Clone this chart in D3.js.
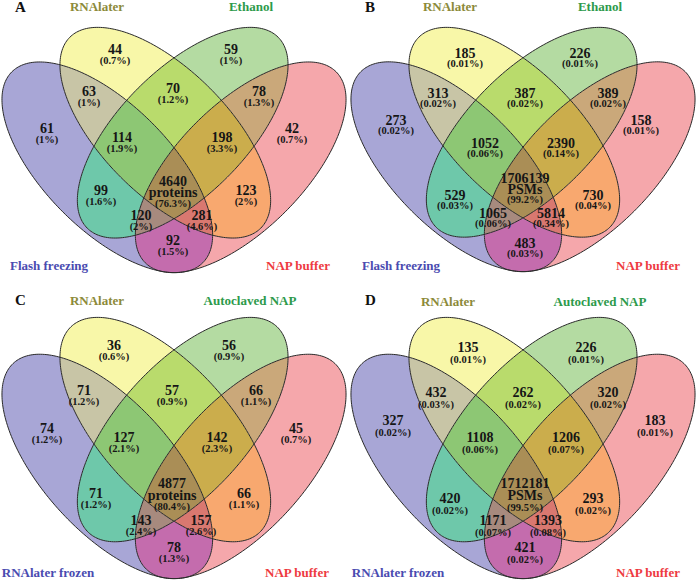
<!DOCTYPE html>
<html><head><meta charset="utf-8">
<script src="https://cdn.jsdelivr.net/npm/d3@7"></script>
<style>body{margin:0;background:#fff}svg{display:block}</style>
</head><body><svg id="chart" width="696" height="581"></svg>
<script>
// ---------- DATA ----------
const regionKeys = ["0","1","2","3","01","12","23","012","123","02","13","023","013","03","0123"];
const setNamesAB = ["Flash freezing","RNAlater","Ethanol","NAP buffer"];
const setNamesCD = ["RNAlater frozen","RNAlater","Autoclaved NAP","NAP buffer"];
const countsA = [61,44,59,42,63,70,78,114,198,99,123,120,281,92,4640];
const pctsA   = ["1%","0.7%","1%","0.7%","1%","1.2%","1.3%","1.9%","3.3%","1.6%","2%","2%","4.6%","1.5%","76.3%"];
const countsB = [273,185,226,158,313,387,389,1052,2390,529,730,1065,5814,483,1706139];
const pctsB   = ["0.02%","0.01%","0.01%","0.01%","0.02%","0.02%","0.02%","0.06%","0.14%","0.03%","0.04%","0.06%","0.34%","0.03%","99.2%"];
const countsC = [74,36,56,45,71,57,66,127,142,71,66,143,157,78,4877];
const pctsC   = ["1.2%","0.6%","0.9%","0.7%","1.2%","0.9%","1.1%","2.1%","2.3%","1.2%","1.1%","2.4%","2.6%","1.3%","80.4%"];
const countsD = [327,135,226,183,432,262,320,1108,1206,420,293,1171,1393,421,1712181];
const pctsD   = ["0.02%","0.01%","0.01%","0.01%","0.03%","0.02%","0.02%","0.06%","0.07%","0.02%","0.02%","0.07%","0.08%","0.02%","99.5%"];
const centerUnits = ["proteins","PSMs","proteins","PSMs"];

// ---------- STYLE / LAYOUT ----------
const W = 696, H = 581;
const regionColors = ["#a8a6d6","#f8f7a8","#b4dba2","#f5a7ab","#c8c5a6","#b9db6c","#caa87a",
                      "#8dc774","#cbad4c","#6ec8aa","#f8a86f","#a78a7e","#d97870","#c46cad","#aa8e56"];
const labelColors = ["#4a4bb0","#8c8a3a","#2d9a4b","#ee3b3f"];
const EA = 135, EB = 63;
const ellipses = [
  {cx:107.3, cy:167.3, rot:45},
  {cx:165.3, cy:132.7, rot:45},
  {cx:182.7, cy:132.7, rot:-45},
  {cx:240.7, cy:167.3, rot:-45}];
// label centres, panel-local pixels
const labelPosA = [[48,128],[116,49],[232,49],[293,128],[90,91],[174,88],[260,91],[123,137],[223,137],[102,190],[247,190],[142,215],[203,215],[174,240],[174,181]];
const labelPosB = [[48,120],[117,53],[232,53],[293,120],[90,93],[177,93],[260,93],[137,143],[213,143],[107,195],[245,195],[145,213],[203,213],[177,243],[177,178]];
const labelPosC = [[48,138],[115,55],[230,55],[297,138],[85,100],[173,100],[257,100],[125,147],[218,147],[97,203],[245,203],[142,230],[202,230],[175,257],[173,193]];
const labelPosD = [[45,130],[120,57],[238,57],[307,130],[88,102],[175,102],[260,102],[132,147],[218,147],[102,208],[245,208],[145,230],[200,230],[177,257],[177,193]];

const panels = [
  {id:"A", names:setNamesAB, counts:countsA, pcts:pctsA, unit:centerUnits[0], pos:labelPosA, gap:11,
   x0:0, y0:0, top:27, bottom:273, topY:11, botY:270, catX:[49,97,251,298], letterX:15, letterY:12},
  {id:"B", names:setNamesAB, counts:countsB, pcts:pctsB, unit:centerUnits[1], pos:labelPosB, gap:10.5,
   x0:349, y0:0, top:27, bottom:272, topY:11, botY:270, catX:[401,450,600,648], letterX:365, letterY:12},
  {id:"C", names:setNamesCD, counts:countsC, pcts:pctsC, unit:centerUnits[2], pos:labelPosC, gap:11.5,
   x0:0, y0:290, top:317, bottom:579, topY:305, botY:577, catX:[48,97,250,297], letterX:15, letterY:305},
  {id:"D", names:setNamesCD, counts:countsD, pcts:pctsD, unit:centerUnits[3], pos:labelPosD, gap:12,
   x0:349, y0:290, top:317, bottom:579, topY:306, botY:577, catX:[398,448,600,648], letterX:365, letterY:305}
];

const svg = d3.select("#chart");
const defs = svg.append("defs");
const font = "'Liberation Serif','Times New Roman',serif";
const line = d3.line().curve(d3.curveLinearClosed);

panels.forEach(p => {
  // ellipse frame -> page
  const x = d3.scaleLinear().domain([0,348]).range([p.x0, p.x0+348]);
  const y = d3.scaleLinear().domain([27,273]).range([p.top, p.bottom]);
  // panel-local label pixels -> page
  const lx = d3.scaleLinear().domain([0,348]).range([p.x0-1, p.x0+347]);
  const ly = d3.scaleLinear().domain([0,290]).range([p.y0, p.y0+290]);
  const paths = ellipses.map(e => {
    const th = e.rot*Math.PI/180;
    const pts = d3.range(0,360,1.5).map(t => {
      const r = t*Math.PI/180, ex = EA*Math.cos(r), ey = EB*Math.sin(r);
      return [x(e.cx + ex*Math.cos(th) - ey*Math.sin(th)), y(e.cy + ex*Math.sin(th) + ey*Math.cos(th))];
    });
    return line(pts);
  });
  paths.forEach((d,i) => {
    defs.append("clipPath").attr("id",`c${p.id}${i}`).append("path").attr("d",d);
  });
  const pg = svg.append("g");
  regionKeys.forEach((k,ri) => {
    const ins = k.split("").map(Number);
    const outs = [0,1,2,3].filter(i => !ins.includes(i));
    let g = pg;
    ins.forEach(i => { g = g.append("g").attr("clip-path",`url(#c${p.id}${i})`); });
    const r = g.append("rect").attr("x",p.x0).attr("y",p.top-5).attr("width",348).attr("height",p.bottom-p.top+10)
      .attr("fill",regionColors[ri]);
    if (outs.length) {
      const mid = `m${p.id}${k}`;
      const m = defs.append("mask").attr("id",mid).attr("maskUnits","userSpaceOnUse")
        .attr("x",0).attr("y",0).attr("width",W).attr("height",H);
      m.append("rect").attr("width",W).attr("height",H).attr("fill","#fff");
      outs.forEach(i => m.append("path").attr("d",paths[i]).attr("fill","#000"));
      r.attr("mask",`url(#${mid})`);
    }
  });
  pg.selectAll("path.outline").data(paths).join("path").attr("class","outline")
    .attr("d",d=>d).attr("fill","none").attr("stroke","#2a2a2a").attr("stroke-width",1);

  // region labels
  const lg = pg.append("g").attr("font-family",font).attr("font-weight","bold").attr("text-anchor","middle").attr("fill","#161616");
  regionKeys.forEach((k,ri) => {
    const [px,py] = p.pos[ri];
    lg.append("text").attr("x",lx(px)).attr("y",ly(py)+5).attr("font-size",14).text(p.counts[ri]);
    if (k === "0123") {
      lg.append("text").attr("x",lx(px)).attr("y",ly(py+p.gap)+5).attr("font-size",14).text(p.unit);
      lg.append("text").attr("x",lx(px)).attr("y",ly(py+2*p.gap)+3.5).attr("font-size",10.5).text(`(${p.pcts[ri]})`);
    } else {
      lg.append("text").attr("x",lx(px)).attr("y",ly(py+p.gap)+3.5).attr("font-size",10.5).text(`(${p.pcts[ri]})`);
    }
  });
  // category labels
  const cg = svg.append("g").attr("font-family",font).attr("font-weight","bold").attr("text-anchor","middle").attr("font-size",13);
  p.names.forEach((n,i) => {
    cg.append("text").attr("x",p.catX[i]).attr("y",(i===0||i===3)?p.botY:p.topY).attr("fill",labelColors[i]).text(n);
  });
  svg.append("text").attr("x",p.letterX).attr("y",p.letterY).attr("font-family",font).attr("font-weight","bold")
    .attr("font-size",15).attr("fill","#111").text(p.id);
});
</script></body></html>
